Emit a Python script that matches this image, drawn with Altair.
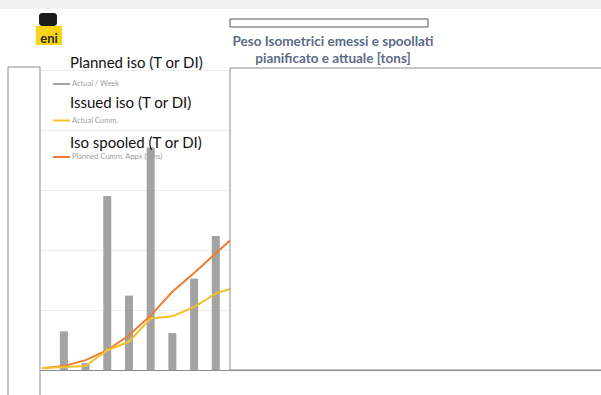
import altair as alt
import pandas as pd

# ---- data ----
bar_weeks = [1, 2, 3, 4, 5, 6, 7, 8]
actual_week = [129, 23, 580, 248, 742, 123, 305, 447]
line_weeks = [0, 1, 2, 3, 4, 5, 6, 7, 8, 9]
actual_cumm = [7, 10, 13, 66, 94, 172, 179, 210, 255, 278]
planned_cumm = [6, 13, 33, 66, 116, 182, 261, 323, 389, 454]

overlay_labels = ["Planned iso (T or DI)", "Issued iso (T or DI)", "Iso spooled (T or DI)"]
legend_labels = ["Actual / Week", "Actual Cumm.", "Planned Cumm. Appx (tons)"]
legend_colors = ["#a3a3a3", "#f2c12e", "#ed7d31"]
title_lines = ["Peso Isometrici emessi e spoollati", "pianificato e attuale [tons]"]
y_ticks = [0, 100, 200, 300, 400, 500, 600, 700, 800, 900, 1000]

W, H = 561, 300
T = 70  # top padding
FONT = "Lato"

bars_df = pd.DataFrame({"week": bar_weeks, "value": actual_week})
lines_df = pd.DataFrame({"week": line_weeks, "actual": actual_cumm, "planned": planned_cumm})

x_scale = alt.Scale(domain=[-0.1, 25.75], nice=False, zero=False, padding=0)
y_scale = alt.Scale(domain=[0, 1000], nice=False, padding=0)

x_axis = alt.Axis(labels=False, ticks=False, grid=False, domainColor="#8c8c8c", title="")
y_axis = alt.Axis(labels=False, ticks=False, grid=True, gridColor="#ececec",
                  values=y_ticks, domain=False, title="")


def one():
    return alt.Data(values=[{}])


def Y(py):
    """page y -> plot y"""
    return alt.value(py - T)


bars = alt.Chart(bars_df).mark_bar(size=8, color="#a3a3a3").encode(
    x=alt.X("week:Q", scale=x_scale, axis=x_axis),
    y=alt.Y("value:Q", scale=y_scale, axis=y_axis),
)

line_planned = alt.Chart(lines_df).mark_line(color="#ed7d31", strokeWidth=2).encode(
    x=alt.X("week:Q", scale=x_scale), y=alt.Y("planned:Q", scale=y_scale)
)
line_actual = alt.Chart(lines_df).mark_line(color="#f2c12e", strokeWidth=2).encode(
    x=alt.X("week:Q", scale=x_scale), y=alt.Y("actual:Q", scale=y_scale)
)

# decorative frames
right_box = alt.Chart(one()).mark_rect(fill="white", stroke="#8c8c8c", strokeWidth=1).encode(
    x=alt.value(190), x2=alt.value(W + 5), y=Y(68), y2=alt.value(H)
)
left_box = alt.Chart(one()).mark_rect(fill="white", stroke="#8c8c8c", strokeWidth=1).encode(
    x=alt.value(-32), x2=alt.value(0), y=Y(67), y2=alt.value(H + 40)
)
top_band = alt.Chart(one()).mark_rect(fill="#f0f0f0").encode(
    x=alt.value(-40), x2=alt.value(W), y=Y(0), y2=Y(9)
)
top_rect = alt.Chart(one()).mark_rect(fill="white", stroke="#555555", strokeWidth=1).encode(
    x=alt.value(190), x2=alt.value(388), y=Y(19), y2=Y(27)
)

# eni logo (approximation)
logo_bg = alt.Chart(one()).mark_rect(fill="#f7d417").encode(
    x=alt.value(-4), x2=alt.value(22), y=Y(26), y2=Y(45)
)
logo_dog = alt.Chart(one()).mark_rect(fill="#1a1a1a", cornerRadius=3).encode(
    x=alt.value(-1), x2=alt.value(17), y=Y(13), y2=Y(26)
)
logo_text = alt.Chart(one()).mark_text(font=FONT, fontWeight="bold", fontSize=13,
                                       color="#2b2b2b", align="center", baseline="alphabetic").encode(
    x=alt.value(9), y=Y(43), text=alt.value("eni")
)

layers = [bars, line_planned, line_actual, right_box, left_box, top_band, top_rect,
          logo_bg, logo_dog, logo_text]

# small legend entries
for i, (lab, col) in enumerate(zip(legend_labels, legend_colors)):
    yy = 84 + 36.5 * i
    layers.append(alt.Chart(one()).mark_rule(color=col, strokeWidth=2).encode(
        x=alt.value(13), x2=alt.value(30), y=Y(yy)))
    layers.append(alt.Chart(one()).mark_text(font=FONT, fontSize=7.5, color="#a0a0a0",
                                             align="left", baseline="middle").encode(
        x=alt.value(32), y=Y(yy), text=alt.value(lab)))

# overlay labels
for i, lab in enumerate(overlay_labels):
    layers.append(alt.Chart(one()).mark_text(font=FONT, fontSize=15, color="#111111",
                                             align="left", baseline="middle").encode(
        x=alt.value(30), y=Y(63 + 40 * i), text=alt.value(lab)))

# title
for i, t in enumerate(title_lines):
    layers.append(alt.Chart(one()).mark_text(font=FONT, fontSize=13.5, fontWeight="bold",
                                             color="#5b6a88", align="center", baseline="middle").encode(
        x=alt.value(293), y=Y(42 + 17 * i), text=alt.value(t)))

chart = alt.layer(*layers).properties(
    width=W, height=H,
    autosize=alt.AutoSizeParams(type="none"),
    padding={"left": 40, "top": T, "right": 0, "bottom": 25},
    background="white",
).configure_view(strokeWidth=0)

chart.save("out.html", embed_options={"renderer": "svg", "actions": False})
